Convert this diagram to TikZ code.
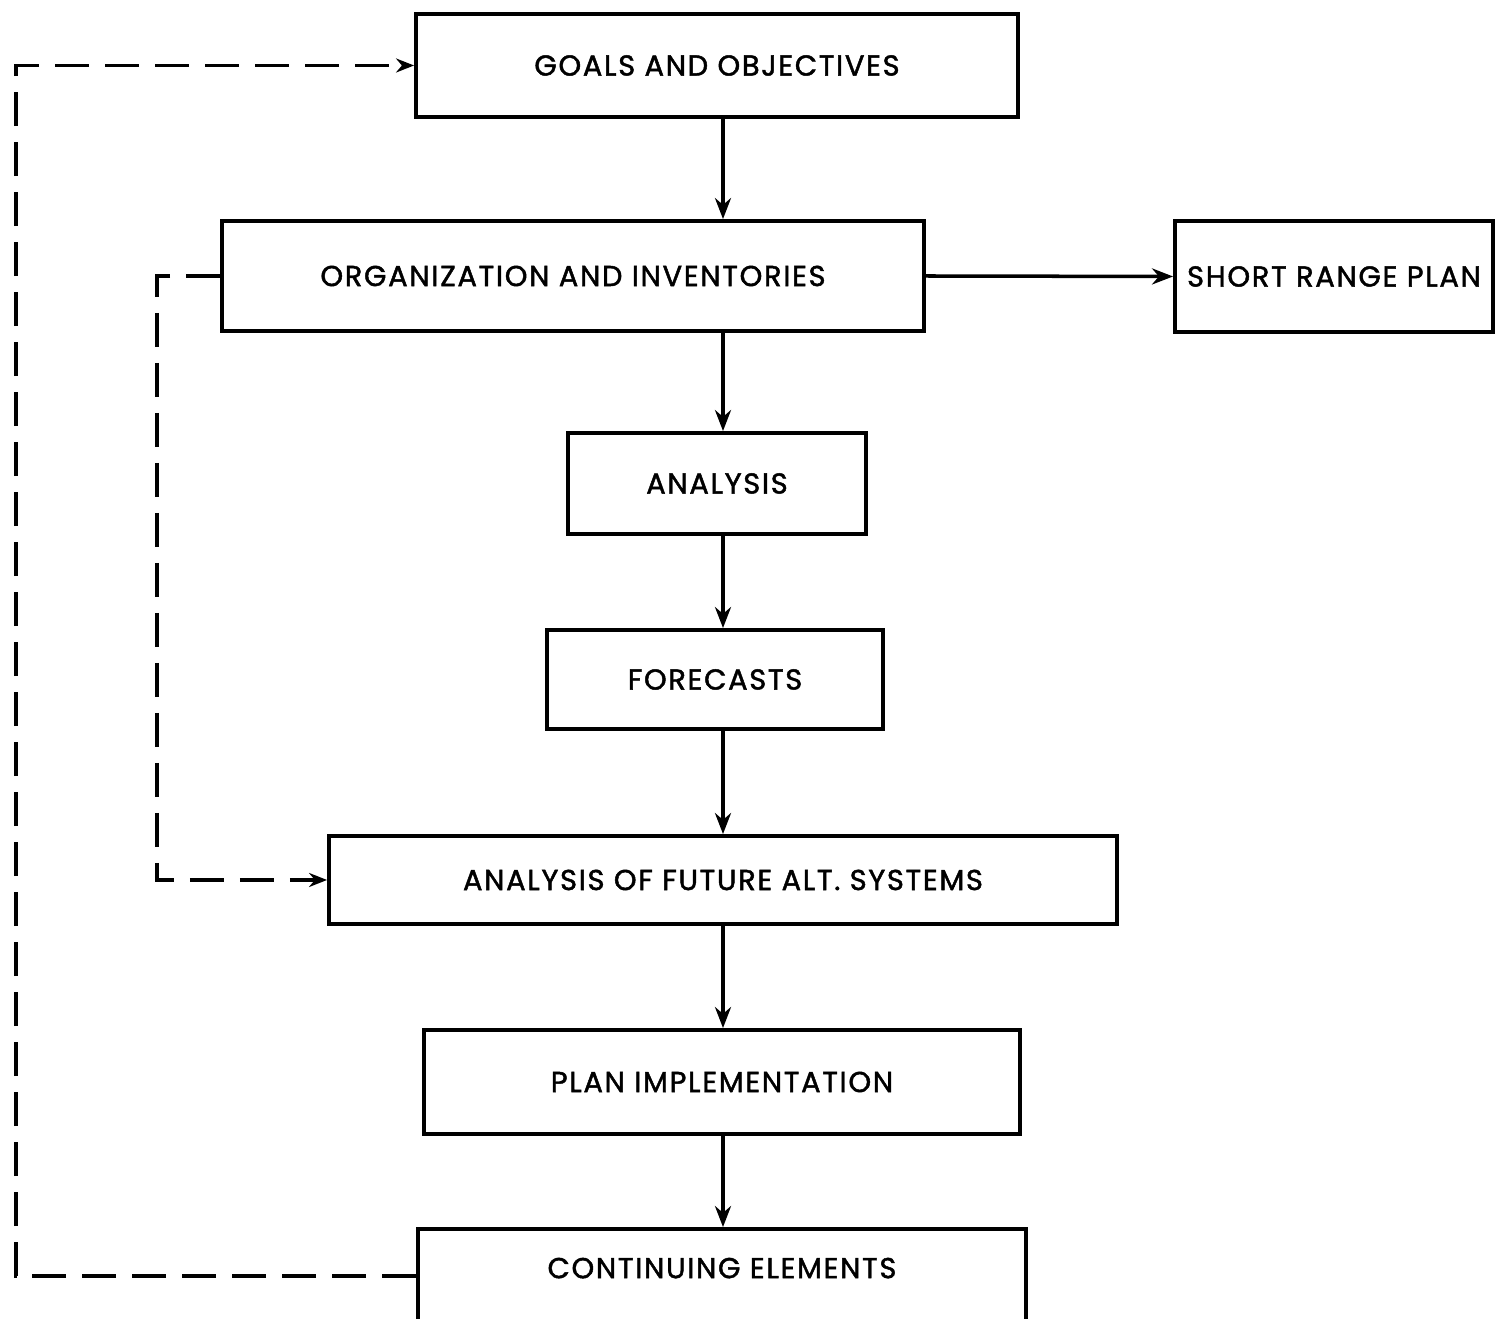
\documentclass[tikz,border=0pt]{standalone}
\usepackage{fontspec}
\setmainfont[LetterSpace=6,FakeBold=1.6]{Poppins}
\usetikzlibrary{arrows.meta}
\tikzset{
  stagebox/.style={draw, line width=1.1pt, inner sep=0pt, align=center,
    font=\fontsize{8.2}{10}\selectfont},
  flow/.style={line width=1pt, -{Stealth[length=2.1mm,width=1.6mm]}},
  loop/.style={line width=1pt, dash pattern=on 3.4mm off 1.6mm, -{Stealth[length=1.8mm,width=1.4mm]}}
}
\begin{document}
\begin{tikzpicture}[x=0.1mm,y=-0.1mm]
\useasboundingbox (0,0) rectangle (1496,1319);

% to write the stages
\node [stagebox, minimum width=60.2mm, minimum height=10.3mm] (goals) at (717,65.5) {GOALS AND OBJECTIVES};
\node [stagebox, minimum width=70.2mm, minimum height=11mm] (org) at (573,276) {ORGANIZATION AND INVENTORIES};
\node [stagebox, minimum width=31.8mm, minimum height=11.1mm] (srp) at (1334,276.5) {SHORT RANGE PLAN};
\node [stagebox, minimum width=29.8mm, minimum height=10.1mm] (ana) at (717,483.5) {ANALYSIS};
\node [stagebox, minimum width=33.6mm, minimum height=9.9mm] (fore) at (715,679.5) {FORECASTS};
\node [stagebox, minimum width=78.8mm, minimum height=8.8mm] (future) at (723,880) {ANALYSIS OF FUTURE ALT. SYSTEMS};
\node [stagebox, minimum width=59.6mm, minimum height=10.4mm] (impl) at (722,1082) {PLAN IMPLEMENTATION};
\node [stagebox, minimum width=60.8mm, minimum height=9.4mm, text depth=1.6mm] (cont) at (722,1276) {CONTINUING ELEMENTS};

% to fix the main line and the two feedback lines
\coordinate (spine) at (723,0);
\coordinate (outer) at (16,0);
\coordinate (inner) at (157,0);

% to draw the main line
\draw [flow] (goals.south -| spine) -- (org.north -| spine);
\draw [flow] (org.south -| spine) -- (ana.north -| spine);
\draw [flow] (ana.south -| spine) -- (fore.north -| spine);
\draw [flow] (fore.south -| spine) -- (future.north -| spine);
\draw [flow] (future.south -| spine) -- (impl.north -| spine);
\draw [flow] (impl.south -| spine) -- (cont.north -| spine);
\draw [flow] (org.east) -- (srp.west);

% to draw dashed feedback lines
\draw [loop] (cont.west) -- (cont.west -| outer) |- (goals.west);
\draw [loop] (org.west) -- (org.west -| inner) |- (future.west);
\end{tikzpicture}
\end{document}
